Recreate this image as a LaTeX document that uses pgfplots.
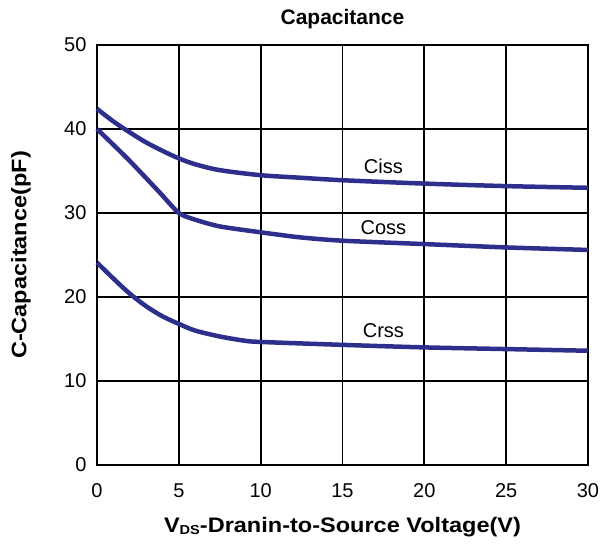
\documentclass[border=0pt]{standalone}
\usepackage{pgfplots}
\pgfplotsset{compat=1.18}
\usepackage{fontspec}
\setmainfont{Liberation Sans}
\newfontfamily\labelfont[FakeStretch=1.12]{Liberation Sans}
\definecolor{curve}{RGB}{46,47,140}
\begin{document}
\begin{tikzpicture}
\begin{axis}[
 scale only axis, width=491bp, height=420bp,
 xmin=0, xmax=30, ymin=0, ymax=50,
 xtick={0,5,...,30}, ytick={0,10,...,50},
 grid=major, grid style={black, line width=1.7bp},
 axis line style={line width=2bp},
 tick style={draw=none},
 /pgf/number format/assume math mode=true,
 ticklabel style={font=\fontsize{20bp}{20bp}\selectfont},
 xticklabel style={yshift=-15bp},
 yticklabel style={xshift=-7bp},
 title={Capacitance},
 title style={font=\fontsize{21bp}{21bp}\selectfont\bfseries, at={(axis description cs:0.5,1)}, anchor=base, yshift=15bp},
 xlabel={V{\fontsize{13bp}{13bp}\selectfont\raisebox{-1.5bp}{DS}}-Dranin-to-Source Voltage(V)},
 ylabel={C-Capacitance(pF)},
 label style={font=\fontsize{21bp}{21bp}\selectfont\labelfont\bfseries},
 xlabel style={at={(axis description cs:0.5,0)}, anchor=north, yshift=-49bp},
 ylabel style={at={(axis description cs:0,0.5)}, anchor=center, yshift=76bp},
 clip=false,
]
\addplot[curve, line width=4.5bp, smooth, tension=0.5] coordinates {
 (0,42.4) (1,40.9) (2,39.6) (3,38.4) (4,37.4) (5,36.5) (6,35.8) (7.5,35.1) (10,34.5) (12.4,34.2) (15,33.9) (20,33.5) (25,33.2) (30,33.0)};
\addplot[curve, line width=4.5bp, smooth, tension=0.4] coordinates {
 (0,40.0) (1.9,36.4) (3.8,32.5) (5,30.0) (6,29.2) (7.5,28.4) (10,27.7) (12.4,27.1) (15,26.7) (20,26.3) (25,25.9) (30,25.6)};
\addplot[curve, line width=4.5bp, smooth, tension=0.5] coordinates {
 (0,24.1) (1,22.2) (2,20.4) (3,18.9) (4,17.7) (5,16.8) (6,16.0) (7.5,15.3) (9,14.8) (10,14.65) (15,14.3) (20,14.0) (25,13.8) (30,13.6)};
\node[font=\fontsize{20bp}{20bp}\selectfont] at (axis cs:17.5,35.6) {Ciss};
\node[font=\fontsize{20bp}{20bp}\selectfont] at (axis cs:17.5,28.25) {Coss};
\node[font=\fontsize{20bp}{20bp}\selectfont] at (axis cs:17.5,16.05) {Crss};
\coordinate (ll) at (rel axis cs:0,0);
\coordinate (ur) at (rel axis cs:1,1);
\end{axis}
\pgfresetboundingbox
\path ([shift={(-97bp,-80bp)}]ll) rectangle ([shift={(12bp,45bp)}]ur);
\end{tikzpicture}
\end{document}
